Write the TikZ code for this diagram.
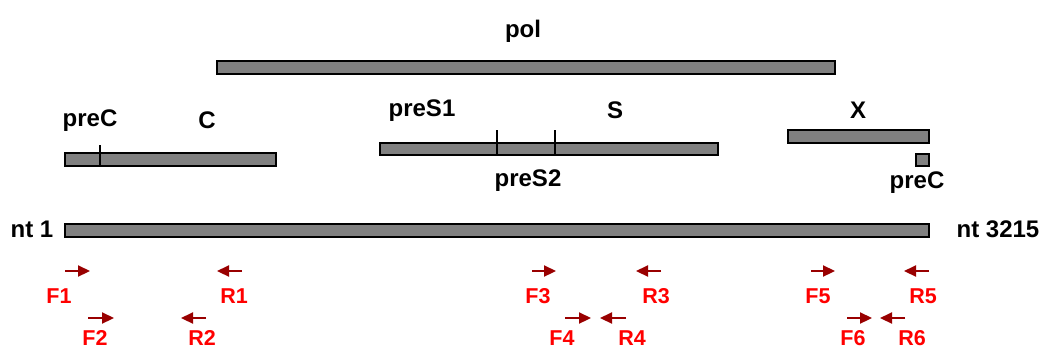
\documentclass[tikz,border=0pt]{standalone}
\usepackage{fontspec}
\setmainfont{Liberation Sans}
\usetikzlibrary{arrows.meta}
\definecolor{bargray}{HTML}{808080}
\definecolor{arrred}{HTML}{990000}
\definecolor{lblred}{HTML}{FF0000}
\tikzset{
  bar/.style={draw=black, line width=1.8pt, fill=bargray},
  tick/.style={draw=black, line width=2.6pt},
  lbl/.style={font=\fontsize{24}{26}\selectfont\bfseries, text=black, inner sep=0pt},
  plbl/.style={font=\fontsize{21.5}{23}\selectfont\bfseries, text=lblred, inner sep=0pt},
  primer/.style={draw=arrred, line width=2.2pt, -{Triangle[length=12pt,width=11pt]}},
}
\begin{document}
\begin{tikzpicture}[x=1pt,y=-1pt]
\useasboundingbox (0,0) rectangle (1044,349);
% bars
\draw[bar] (217,61) rectangle (835,74) coordinate (polbar);
\draw[bar] (65,153) rectangle (276,166) coordinate (cbar);
\draw[bar] (380,143) rectangle (718,155) coordinate (sbar);
\draw[bar] (788,130) rectangle (929,143) coordinate (xbar);
\draw[bar] (916,154) rectangle (929,166) coordinate (precbar);
\draw[bar] (65,224) rectangle (929,237) coordinate (genome);
% ticks
\draw[tick] (100,145) -- (100,166);
\draw[tick] (497,130) -- (497,155);
\draw[tick] (555,130) -- (555,155);
% labels
\node[lbl] (pol) at (523,31) {pol};
\node[lbl] (preC1) at (90,121) {preC};
\node[lbl] (C) at (207,120) {C};
\node[lbl] (preS1) at (422,111) {preS1};
\node[lbl] (S) at (615,110) {S};
\node[lbl] (preS2) at (528,181) {preS2};
\node[lbl] (X) at (858,110) {X};
\node[lbl] (preC2) at (917,183) {preC};
\node[lbl] (nt1) at (32,229) {nt 1};
\node[lbl] (nt3215) at (998,229) {nt 3215};
% primers
\coordinate (f1a) at (65,271); \coordinate (f1b) at (90,271);
\coordinate (r1a) at (242,271); \coordinate (r1b) at (217,271);
\coordinate (f2a) at (88,318); \coordinate (f2b) at (114,318);
\coordinate (r2a) at (206,318); \coordinate (r2b) at (181,318);
\coordinate (f3a) at (532,271); \coordinate (f3b) at (556,271);
\coordinate (r3a) at (661,271); \coordinate (r3b) at (636,271);
\coordinate (f4a) at (565,318); \coordinate (f4b) at (591,318);
\coordinate (r4a) at (626,318); \coordinate (r4b) at (600,318);
\coordinate (f5a) at (811,271); \coordinate (f5b) at (835,271);
\coordinate (r5a) at (929,271); \coordinate (r5b) at (904,271);
\coordinate (f6a) at (847,318); \coordinate (f6b) at (872,318);
\coordinate (r6a) at (905,318); \coordinate (r6b) at (880,318);
\foreach \p in {f1,r1,f2,r2,f3,r3,f4,r4,f5,r5,f6,r6}
  \draw[primer] (\p a) -- (\p b);
\node[plbl] (F1) at (59,296) {F1};
\node[plbl] (R1) at (234,296) {R1};
\node[plbl] (F2) at (95,338) {F2};
\node[plbl] (R2) at (202,338) {R2};
\node[plbl] (F3) at (538,296) {F3};
\node[plbl] (R3) at (656,296) {R3};
\node[plbl] (F4) at (562,338) {F4};
\node[plbl] (R4) at (632,338) {R4};
\node[plbl] (F5) at (818,296) {F5};
\node[plbl] (R5) at (923,296) {R5};
\node[plbl] (F6) at (853,338) {F6};
\node[plbl] (R6) at (912,338) {R6};
\end{tikzpicture}
\end{document}
